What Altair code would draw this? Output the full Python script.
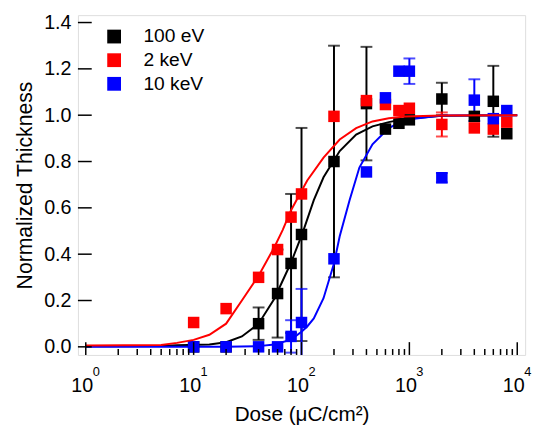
import altair as alt
import pandas as pd

# ---------------- data ----------------
doses = [10, 20, 40, 60, 80, 100, 200, 400, 600, 800, 1000, 2000, 4000, 6000, 8000]

ev100_vals = [0.0, 0.0, 0.10, 0.23, 0.36, 0.485, 0.80, 1.05, 0.94, 0.965, 0.98, 1.07, 0.995, 1.06, 0.92]
ev100_errs = [0, 0, 0.07, 0.19, 0.30, 0.46, 0.50, 0.245, 0, 0, 0, 0.07, 0, 0.153, 0]

kev2_vals = [0.105, 0.165, 0.30, 0.42, 0.56, 0.66, 0.995, 1.063, 1.046, 1.02, 1.03, 0.96, 0.945, 0.94, 0.97]
kev2_errs = [0, 0, 0, 0, 0, 0, 0, 0, 0, 0, 0, 0.052, 0, 0, 0]

kev10_vals = [0.0, 0.0, 0.0, 0.0, 0.045, 0.105, 0.38, 0.755, 1.075, 1.19, 1.19, 0.73, 1.065, 0.985, 1.02]
kev10_errs = [0, 0, 0, 0, 0.07, 0.145, 0, 0, 0, 0, 0.055, 0.02, 0.09, 0, 0]

# fitted curves
fit_red_x = [1, 5, 7, 10, 14, 20, 28, 40, 56, 67, 80, 113, 160, 226, 321, 455, 644, 911, 2000, 10000]
fit_red_y = [0.006, 0.008, 0.017, 0.03, 0.052, 0.10, 0.20, 0.307, 0.43, 0.505, 0.59, 0.718, 0.817,
             0.895, 0.944, 0.973, 0.987, 0.994, 0.999, 1.0]

fit_black_x = [1, 5, 7, 14, 20, 28, 40, 56, 80, 102, 130, 160, 226, 321, 455, 644, 911, 2000, 10000]
fit_black_y = [0.003, 0.004, 0.007, 0.01, 0.02, 0.045, 0.10, 0.208, 0.364, 0.49, 0.633, 0.732, 0.845,
               0.916, 0.952, 0.970, 0.984, 0.997, 1.0]

fit_blue_x = [1, 20, 40, 56, 80, 100, 113, 130, 160, 200, 226, 279, 344, 455, 644, 911, 2000, 10000]
fit_blue_y = [0.0, 0.0, 0.003, 0.01, 0.031, 0.065, 0.088, 0.123, 0.21, 0.36, 0.477, 0.633, 0.774,
              0.874, 0.944, 0.98, 0.999, 1.0]

series_names = ["100 eV", "2 keV", "10 keV"]
series_colors = ["#000000", "#ff0000", "#0000ff"]

x_major = [1, 10, 100, 1000, 10000]
x_exponents = ["0", "1", "2", "3", "4"]
x_minor = [m * 10 ** e for e in range(4) for m in range(2, 10)]
y_ticks = [0.0, 0.2, 0.4, 0.6, 0.8, 1.0, 1.2, 1.4]

# ---------------- tables ----------------
rows = []
for name, vals, errs in zip(series_names, [ev100_vals, kev2_vals, kev10_vals],
                            [ev100_errs, kev2_errs, kev10_errs]):
    for d, v, e in zip(doses, vals, errs):
        rows.append({"series": name, "dose": d, "value": v, "err": e,
                     "lo": v - e, "hi": v + e})
pts = pd.DataFrame(rows)
errs_df = pts[pts["err"] > 0]

fits = {
    "100 eV": pd.DataFrame({"dose": fit_black_x, "value": fit_black_y}),
    "2 keV": pd.DataFrame({"dose": fit_red_x, "value": fit_red_y}),
    "10 keV": pd.DataFrame({"dose": fit_blue_x, "value": fit_blue_y}),
}
color_of = dict(zip(series_names, series_colors))

W, H = 454, 345
FONT = "Liberation Sans"

xscale = alt.Scale(type="log", domain=[0.846, 11830], nice=False)
yscale = alt.Scale(domain=[-0.035, 1.432], nice=False, zero=False)

xaxis = alt.Axis(values=x_major, ticks=False, domain=False, grid=False,
                 labelExpr="'10'", labelOffset=-4,
                 labelFontSize=20, labelPadding=21, labelFlush=False, labelOverlap=False,
                 labelBound=False, labelColor="black", labelFont=FONT,
                 title="Dose (\u03bcC/cm\u00b2)", titleFontSize=21, titleFontWeight="normal",
                 titleFont=FONT, titleColor="black", titlePadding=9)
yaxis = alt.Axis(values=y_ticks, format=".1f", ticks=False, domain=False, grid=False,
                 labelFontSize=20, labelPadding=7, labelColor="black", labelFont=FONT,
                 labelFlush=False, labelOverlap=False,
                 title="Normalized Thickness", titleFontSize=21.5, titleFontWeight="normal",
                 titleFont=FONT, titleColor="black", titlePadding=7)


def X(f):
    return alt.X(f, type="quantitative", scale=xscale, axis=xaxis)


def Y(f):
    return alt.Y(f, type="quantitative", scale=yscale, axis=yaxis)


layers = []

# error bars
for name in series_names:
    sub = errs_df[errs_df["series"] == name]
    c = color_of[name]
    base = alt.Chart(sub)
    layers.append(base.mark_rule(color=c, strokeWidth=2, clip=True).encode(
        x=X("dose"), y=Y("lo"), y2="hi"))
    layers.append(base.mark_tick(color=c, thickness=2, size=12, orient="horizontal", clip=True).encode(
        x=X("dose"), y=Y("lo")))
    layers.append(base.mark_tick(color=c, thickness=2, size=12, orient="horizontal", clip=True).encode(
        x=X("dose"), y=Y("hi")))

# black and blue fits under the squares
for name in ["100 eV", "10 keV"]:
    layers.append(alt.Chart(fits[name]).mark_line(color=color_of[name], strokeWidth=2, clip=True).encode(
        x=X("dose"), y=Y("value")))

# squares with legend
layers.append(alt.Chart(pts).mark_square(size=136, opacity=1, filled=True, clip=True).encode(
    x=X("dose"), y=Y("value"),
    color=alt.Color("series:N",
                    scale=alt.Scale(domain=series_names, range=series_colors),
                    sort=series_names,
                    legend=alt.Legend(title=None, orient="none", legendX=27, legendY=12,
                                      symbolType="square", symbolSize=196, symbolStrokeWidth=0,
                                      symbolOpacity=1, labelFontSize=19.5, labelFont=FONT,
                                      labelColor="black", labelOffset=20, rowPadding=3,
                                      padding=0))))

# red fit on top
layers.append(alt.Chart(fits["2 keV"]).mark_line(color="#ff0000", strokeWidth=2, clip=True).encode(
    x=X("dose"), y=Y("value")))

# inward ticks
layers.append(alt.Chart(pd.DataFrame({"t": x_major})).mark_rule(color="black", strokeWidth=1.5).encode(
    x=X("t"), y=alt.value(H), y2=alt.value(H - 13)))
layers.append(alt.Chart(pd.DataFrame({"t": x_minor})).mark_rule(color="black", strokeWidth=1.5).encode(
    x=X("t"), y=alt.value(H), y2=alt.value(H - 6)))
layers.append(alt.Chart(pd.DataFrame({"t": y_ticks})).mark_rule(color="black", strokeWidth=1.5).encode(
    y=Y("t"), x=alt.value(0), x2=alt.value(14)))

# superscript exponents of the decade labels
layers.append(alt.Chart(pd.DataFrame({"t": x_major, "e": x_exponents})).mark_text(
    align="left", baseline="top", dx=7, fontSize=13, font=FONT, color="black").encode(
    x=X("t"), y=alt.value(H + 11), text="e:N"))

chart = alt.layer(*layers).properties(
    width=W, height=H,
    autosize=alt.AutoSizeParams(type="none"),
    padding={"left": 71, "top": 4, "right": 8, "bottom": 75},
).configure_view(stroke="black", strokeWidth=2).configure(background="white")

chart.save("out.html", embed_options={"renderer": "svg", "actions": False})
